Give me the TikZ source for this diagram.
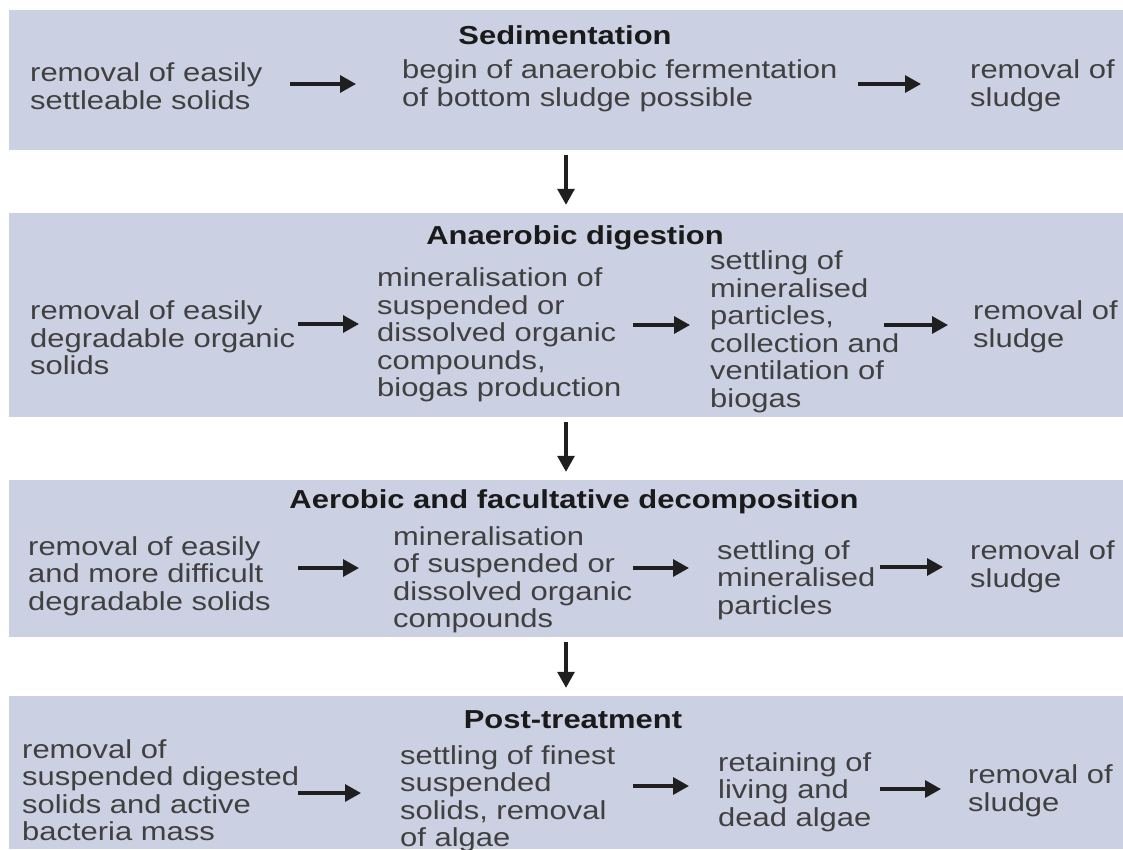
\documentclass[tikz,border=0pt]{standalone}
\usepackage{fontspec}
\setmainfont{Liberation Sans}[FakeStretch=1.19]
\usetikzlibrary{arrows.meta}
\definecolor{bandfill}{HTML}{CBD1E3}
\definecolor{bodytext}{HTML}{404040}
\definecolor{titletext}{HTML}{1A1A1A}
\tikzset{
  band/.style={fill=bandfill, draw=none, inner sep=0pt},
  txt/.style={anchor=west, align=left, inner sep=0pt, text=bodytext,
    font=\fontsize{26}{27.5}\selectfont},
  ttl/.style={anchor=center, inner sep=0pt, text=titletext,
    font=\fontsize{26}{27.5}\selectfont\bfseries},
  harr/.style={draw=black!88, line width=3.2pt, -{Triangle[length=16pt,width=17pt]}},
  varr/.style={draw=black!88, line width=3.2pt, -{Triangle[length=16pt,width=17pt]},
    shorten <=5pt, shorten >=8pt}
}
\begin{document}
\begin{tikzpicture}[x=1pt,y=-1pt]
\useasboundingbox (0,0) rectangle (1123,849);
% bands
\node[band, minimum width=1114pt, minimum height=140pt] (b1) at (566,80) {};
\node[band, minimum width=1114pt, minimum height=204pt] (b2) at (566,315) {};
\node[band, minimum width=1114pt, minimum height=157pt] (b3) at (566,558.5) {};
\node[band, minimum width=1114pt, minimum height=153pt] (b4) at (566,772.5) {};
\draw[varr] (b1.south) -- (b2.north);
\draw[varr] (b2.south) -- (b3.north);
\draw[varr] (b3.south) -- (b4.north);

% Band 1
\node[ttl] (t1) at (565,35) {Sedimentation};
\node[txt] (n11) at (30,86) {removal of easily\\settleable solids};
\node[txt] (n12) at (402,86) {begin of anaerobic fermentation\\of bottom sludge possible};
\node[txt] (n13) at (970,86) {removal of\\sludge};
\coordinate (a11s) at (290,84); \coordinate (a11e) at (356,84);
\coordinate (a12s) at (858,84); \coordinate (a12e) at (921,84);
\draw[harr] (a11s) -- (a11e);
\draw[harr] (a12s) -- (a12e);

% Band 2
\node[ttl] (t2) at (575,238) {Anaerobic digestion};
\node[txt] (n21) at (30,338) {removal of easily\\degradable organic\\solids};
\node[txt] (n22) at (377,335) {mineralisation of\\suspended or\\dissolved organic\\compounds,\\biogas production};
\node[txt] (n23) at (710,332) {settling of\\mineralised\\particles,\\collection and\\ventilation of\\biogas};
\node[txt] (n24) at (973,327) {removal of\\sludge};
\coordinate (a21s) at (298,324); \coordinate (a21e) at (359,324);
\coordinate (a22s) at (633,325); \coordinate (a22e) at (690,325);
\coordinate (a23s) at (884,325); \coordinate (a23e) at (948,325);
\draw[harr] (a21s) -- (a21e);
\draw[harr] (a22s) -- (a22e);
\draw[harr] (a23s) -- (a23e);

% Band 3
\node[ttl] (t3) at (574,502) {Aerobic and facultative decomposition};
\node[txt] (n31) at (28,576) {removal of easily\\and more difficult\\degradable solids};
\node[txt] (n32) at (393,580) {mineralisation\\of suspended or\\dissolved organic\\compounds};
\node[txt] (n33) at (717,580) {settling of\\mineralised\\particles};
\node[txt] (n34) at (970,567) {removal of\\sludge};
\coordinate (a31s) at (298,568); \coordinate (a31e) at (359,568);
\coordinate (a32s) at (633,568); \coordinate (a32e) at (689,568);
\coordinate (a33s) at (880,567); \coordinate (a33e) at (943,567);
\draw[harr] (a31s) -- (a31e);
\draw[harr] (a32s) -- (a32e);
\draw[harr] (a33s) -- (a33e);

% Band 4
\node[ttl] (t4) at (573,720) {Post-treatment};
\node[txt] (n41) at (22,790) {removal of\\suspended digested\\solids and active\\bacteria mass};
\node[txt] (n42) at (400,799) {settling of finest\\suspended\\solids, removal\\of algae};
\node[txt] (n43) at (718,792) {retaining of\\living and\\dead algae};
\node[txt] (n44) at (968,791) {removal of\\sludge};
\coordinate (a41s) at (298,793); \coordinate (a41e) at (361,793);
\coordinate (a42s) at (633,786); \coordinate (a42e) at (689,786);
\coordinate (a43s) at (880,789); \coordinate (a43e) at (941,789);
\draw[harr] (a41s) -- (a41e);
\draw[harr] (a42s) -- (a42e);
\draw[harr] (a43s) -- (a43e);
\end{tikzpicture}
\end{document}
